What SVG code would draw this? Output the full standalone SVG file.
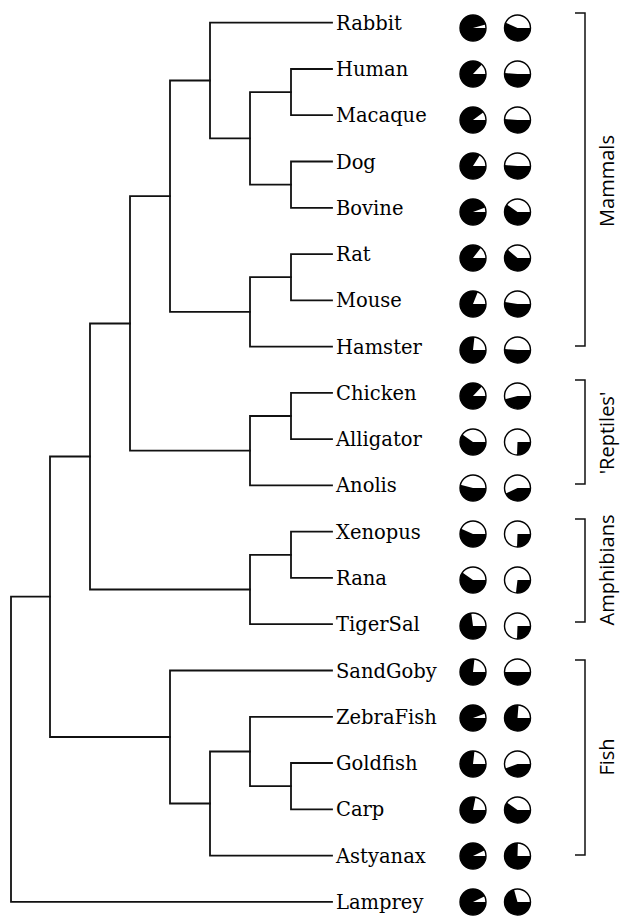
<svg xmlns="http://www.w3.org/2000/svg" width="629" height="916" viewBox="0 0 629 916">
<style>
.e{fill:none;stroke:#111;stroke-width:1.8;stroke-linecap:square}
.b{fill:none;stroke:#111;stroke-width:1.5}
.lb{font-family:"DejaVu Serif","Liberation Serif",serif;font-size:19.5px;fill:#000}
.gl{font-family:"Open Sans","Liberation Sans",sans-serif;font-size:20px;fill:#000;text-anchor:middle}
.s{fill:none;stroke:#000;stroke-width:13}
.o{fill:none;stroke:#000;stroke-width:1.4}
</style>
<rect width="629" height="916" fill="#fff"/>
<g id="connectors">
<path class="e" d="M332 69 H291 V115.2 H332"/>
<path class="e" d="M332 161.5 H291 V207.8 H332"/>
<path class="e" d="M291 92.1 H250 V184.6 H291"/>
<path class="e" d="M332 22.7 H210 V138.4 H250"/>
<path class="e" d="M332 254.1 H291 V300.3 H332"/>
<path class="e" d="M291 277.2 H250 V346.6 H332"/>
<path class="e" d="M210 80.5 H170 V311.9 H250"/>
<path class="e" d="M332 392.9 H291 V439.1 H332"/>
<path class="e" d="M291 416 H250 V485.4 H332"/>
<path class="e" d="M170 196.2 H130 V450.7 H250"/>
<path class="e" d="M332 531.7 H291 V577.9 H332"/>
<path class="e" d="M291 554.8 H250 V624.2 H332"/>
<path class="e" d="M130 323.5 H90 V589.5 H250"/>
<path class="e" d="M332 763 H291 V809.3 H332"/>
<path class="e" d="M332 716.8 H250 V786.2 H291"/>
<path class="e" d="M250 751.5 H210 V855.6 H332"/>
<path class="e" d="M332 670.5 H170 V803.5 H210"/>
<path class="e" d="M90 456.5 H50 V737 H170"/>
<path class="e" d="M50 596.7 H11 V901.8 H332"/>
</g>
<g id="Rabbit"><text class="lb" x="336" y="29.7">Rabbit</text>
<circle class="s" cx="473" cy="28" r="6.5" stroke-dasharray="38.01 100"/><circle class="o" cx="473" cy="28" r="13"/>
<circle class="s" cx="517.5" cy="28" r="6.5" stroke-dasharray="22.69 100"/><circle class="o" cx="517.5" cy="28" r="13"/></g>
<g id="Human"><text class="lb" x="336" y="76">Human</text>
<circle class="s" cx="473" cy="74" r="6.5" stroke-dasharray="34.60 100"/><circle class="o" cx="473" cy="74" r="13"/>
<circle class="s" cx="517.5" cy="74" r="6.5" stroke-dasharray="20.42 100"/><circle class="o" cx="517.5" cy="74" r="13"/></g>
<g id="Macaque"><text class="lb" x="336" y="122.2">Macaque</text>
<circle class="s" cx="473" cy="120" r="6.5" stroke-dasharray="35.74 100"/><circle class="o" cx="473" cy="120" r="13"/>
<circle class="s" cx="517.5" cy="120" r="6.5" stroke-dasharray="20.42 100"/><circle class="o" cx="517.5" cy="120" r="13"/></g>
<g id="Dog"><text class="lb" x="336" y="168.5">Dog</text>
<circle class="s" cx="473" cy="166" r="6.5" stroke-dasharray="33.47 100"/><circle class="o" cx="473" cy="166" r="13"/>
<circle class="s" cx="517.5" cy="166" r="6.5" stroke-dasharray="20.42 100"/><circle class="o" cx="517.5" cy="166" r="13"/></g>
<g id="Bovine"><text class="lb" x="336" y="214.8">Bovine</text>
<circle class="s" cx="473" cy="212" r="6.5" stroke-dasharray="37.44 100"/><circle class="o" cx="473" cy="212" r="13"/>
<circle class="s" cx="517.5" cy="212" r="6.5" stroke-dasharray="23.82 100"/><circle class="o" cx="517.5" cy="212" r="13"/></g>
<g id="Rat"><text class="lb" x="336" y="261.1">Rat</text>
<circle class="s" cx="473" cy="258" r="6.5" stroke-dasharray="34.04 100"/><circle class="o" cx="473" cy="258" r="13"/>
<circle class="s" cx="517.5" cy="258" r="6.5" stroke-dasharray="24.39 100"/><circle class="o" cx="517.5" cy="258" r="13"/></g>
<g id="Mouse"><text class="lb" x="336" y="307.3">Mouse</text>
<circle class="s" cx="473" cy="304" r="6.5" stroke-dasharray="32.33 100"/><circle class="o" cx="473" cy="304" r="13"/>
<circle class="s" cx="517.5" cy="304" r="6.5" stroke-dasharray="20.99 100"/><circle class="o" cx="517.5" cy="304" r="13"/></g>
<g id="Hamster"><text class="lb" x="336" y="353.6">Hamster</text>
<circle class="s" cx="473" cy="350" r="6.5" stroke-dasharray="30.63 100"/><circle class="o" cx="473" cy="350" r="13"/>
<circle class="s" cx="517.5" cy="350" r="6.5" stroke-dasharray="20.42 100"/><circle class="o" cx="517.5" cy="350" r="13"/></g>
<g id="Chicken"><text class="lb" x="336" y="399.9">Chicken</text>
<circle class="s" cx="473" cy="396" r="6.5" stroke-dasharray="34.60 100"/><circle class="o" cx="473" cy="396" r="13"/>
<circle class="s" cx="517.5" cy="396" r="6.5" stroke-dasharray="18.15 100"/><circle class="o" cx="517.5" cy="396" r="13"/></g>
<g id="Alligator"><text class="lb" x="336" y="446.1">Alligator</text>
<circle class="s" cx="473" cy="442" r="6.5" stroke-dasharray="23.82 100"/><circle class="o" cx="473" cy="442" r="13"/>
<circle class="s" cx="517.5" cy="442" r="6.5" stroke-dasharray="10.21 100"/><circle class="o" cx="517.5" cy="442" r="13"/></g>
<g id="Anolis"><text class="lb" x="336" y="492.4">Anolis</text>
<circle class="s" cx="473" cy="488" r="6.5" stroke-dasharray="21.56 100"/><circle class="o" cx="473" cy="488" r="13"/>
<circle class="s" cx="517.5" cy="488" r="6.5" stroke-dasharray="17.02 100"/><circle class="o" cx="517.5" cy="488" r="13"/></g>
<g id="Xenopus"><text class="lb" x="336" y="538.7">Xenopus</text>
<circle class="s" cx="473" cy="534" r="6.5" stroke-dasharray="22.69 100"/><circle class="o" cx="473" cy="534" r="13"/>
<circle class="s" cx="517.5" cy="534" r="6.5" stroke-dasharray="10.21 100"/><circle class="o" cx="517.5" cy="534" r="13"/></g>
<g id="Rana"><text class="lb" x="336" y="584.9">Rana</text>
<circle class="s" cx="473" cy="580" r="6.5" stroke-dasharray="23.82 100"/><circle class="o" cx="473" cy="580" r="13"/>
<circle class="s" cx="517.5" cy="580" r="6.5" stroke-dasharray="10.78 100"/><circle class="o" cx="517.5" cy="580" r="13"/></g>
<g id="TigerSal"><text class="lb" x="336" y="631.2">TigerSal</text>
<circle class="s" cx="473" cy="626" r="6.5" stroke-dasharray="28.93 100"/><circle class="o" cx="473" cy="626" r="13"/>
<circle class="s" cx="517.5" cy="626" r="6.5" stroke-dasharray="10.21 100"/><circle class="o" cx="517.5" cy="626" r="13"/></g>
<g id="SandGoby"><text class="lb" x="336" y="677.5">SandGoby</text>
<circle class="s" cx="473" cy="672" r="6.5" stroke-dasharray="30.63 100"/><circle class="o" cx="473" cy="672" r="13"/>
<circle class="s" cx="517.5" cy="672" r="6.5" stroke-dasharray="19.85 100"/><circle class="o" cx="517.5" cy="672" r="13"/></g>
<g id="ZebraFish"><text class="lb" x="336" y="723.8">ZebraFish</text>
<circle class="s" cx="473" cy="718" r="6.5" stroke-dasharray="37.44 100"/><circle class="o" cx="473" cy="718" r="13"/>
<circle class="s" cx="517.5" cy="718" r="6.5" stroke-dasharray="30.40 100"/><circle class="o" cx="517.5" cy="718" r="13"/></g>
<g id="Goldfish"><text class="lb" x="336" y="770">Goldfish</text>
<circle class="s" cx="473" cy="764" r="6.5" stroke-dasharray="30.63 100"/><circle class="o" cx="473" cy="764" r="13"/>
<circle class="s" cx="517.5" cy="764" r="6.5" stroke-dasharray="17.58 100"/><circle class="o" cx="517.5" cy="764" r="13"/></g>
<g id="Carp"><text class="lb" x="336" y="816.3">Carp</text>
<circle class="s" cx="473" cy="810" r="6.5" stroke-dasharray="31.20 100"/><circle class="o" cx="473" cy="810" r="13"/>
<circle class="s" cx="517.5" cy="810" r="6.5" stroke-dasharray="23.82 100"/><circle class="o" cx="517.5" cy="810" r="13"/></g>
<g id="Astyanax"><text class="lb" x="336" y="862.6">Astyanax</text>
<circle class="s" cx="473" cy="856" r="6.5" stroke-dasharray="36.87 100"/><circle class="o" cx="473" cy="856" r="13"/>
<circle class="s" cx="517.5" cy="856" r="6.5" stroke-dasharray="30.06 100"/><circle class="o" cx="517.5" cy="856" r="13"/></g>
<g id="Lamprey"><text class="lb" x="336" y="908.8">Lamprey</text>
<circle class="s" cx="473" cy="902" r="6.5" stroke-dasharray="36.87 100"/><circle class="o" cx="473" cy="902" r="13"/>
<circle class="s" cx="517.5" cy="902" r="6.5" stroke-dasharray="28.02 100"/><circle class="o" cx="517.5" cy="902" r="13"/></g>
<g id="Mammals"><path class="b" d="M575 13 H585 V346 H575"/><text class="gl" transform="translate(614,181) rotate(-90)">Mammals</text></g>
<g id="Reptiles"><path class="b" d="M575 380 H585 V484 H575"/><text class="gl" transform="translate(614,433) rotate(-90)">'Reptiles'</text></g>
<g id="Amphibians"><path class="b" d="M575 519 H585 V622 H575"/><text class="gl" transform="translate(614,570) rotate(-90)">Amphibians</text></g>
<g id="Fish"><path class="b" d="M575 660 H585 V855 H575"/><text class="gl" transform="translate(614,757) rotate(-90)">Fish</text></g>
</svg>
